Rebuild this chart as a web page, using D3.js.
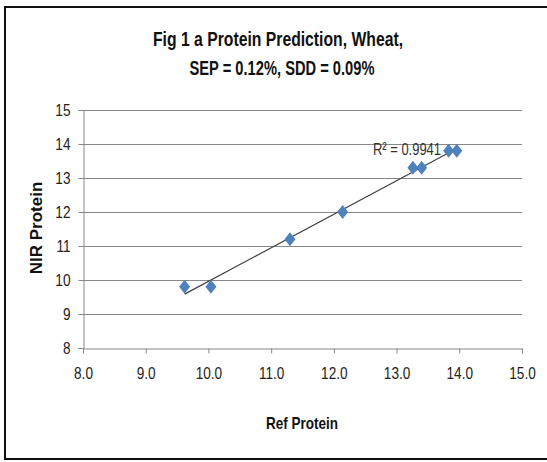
<!DOCTYPE html>
<html>
<head>
<meta charset="utf-8">
<script src="https://cdn.jsdelivr.net/npm/d3@7"></script>
<style>
  body { margin: 0; background: #fff; }
  text { font-family: "Liberation Sans", Arial, sans-serif; }
</style>
</head>
<body>
<div id="myDiv"><svg width="547" height="462"></svg></div>
<script>
// values
const refProtein = [9.62, 10.04, 11.30, 12.14, 13.26, 13.40, 13.83, 13.96];
const nirProtein = [9.8, 9.8, 11.2, 12.0, 13.3, 13.3, 13.8, 13.8];
const xTicks = [8, 9, 10, 11, 12, 13, 14, 15];
const yTicks = [8, 9, 10, 11, 12, 13, 14, 15];
const titleLines = ["Fig 1 a Protein Prediction, Wheat,", "SEP = 0.12%, SDD = 0.09%"];
const xTitle = "Ref Protein";
const yTitle = "NIR Protein";

const svg = d3.select("#myDiv").select("svg");

// narrow the glyphs a bit, the original face is a condensed one
function squeeze(sel, k) {
    sel.each(function() {
        let w = this.getComputedTextLength();
        d3.select(this)
            .attr("textLength", w * k)
            .attr("lengthAdjust", "spacingAndGlyphs");
    });
}

// outer frame (right side runs off the picture)
svg.append("path")
    .attr("d", "M560,7 H5 V459 H560")
    .attr("fill", "none")
    .attr("stroke", "#111")
    .attr("stroke-width", 2);

const x = d3.scaleLinear().domain([8, 15]).range([83, 522]);
const y = d3.scaleLinear().domain([8, 15]).range([348, 110]);

// gridlines
svg.append("g")
    .selectAll("line")
    .data(yTicks.filter(d => d > 8))
    .enter()
    .append("line")
    .attr("x1", x(8))
    .attr("x2", x(15))
    .attr("y1", d => Math.round(y(d)) + 0.5)
    .attr("y2", d => Math.round(y(d)) + 0.5)
    .attr("stroke", "#888");

// axes
const xAxis = svg.append("g")
    .attr("transform", "translate(0," + (Math.round(y(8)) + 0.5) + ")")
    .call(d3.axisBottom(x).tickValues(xTicks).tickFormat(d3.format(".1f")).tickSize(5).tickPadding(14));
const yAxis = svg.append("g")
    .attr("transform", "translate(" + (Math.round(x(8)) + 0.5) + ",0)")
    .call(d3.axisLeft(y).tickValues(yTicks).tickFormat(d3.format("d")).tickSize(5).tickPadding(8));

[xAxis, yAxis].forEach(function(a) {
    a.select(".domain").attr("stroke", "#888");
    a.selectAll(".tick line").attr("stroke", "#888");
    a.selectAll(".tick text")
        .attr("fill", "#222")
        .style("font-family", "'Liberation Sans', Arial, sans-serif")
        .style("font-size", "16px")
        .call(squeeze, 0.85);
});

// linear trendline
const pts = refProtein.map((d, i) => [d, nirProtein[i]]);
const mx = d3.mean(refProtein), my = d3.mean(nirProtein);
const slope = d3.sum(pts, p => (p[0] - mx) * (p[1] - my)) / d3.sum(pts, p => (p[0] - mx) ** 2);
const icpt = my - slope * mx;
const xExt = d3.extent(refProtein);

svg.append("line")
    .attr("x1", x(xExt[0]))
    .attr("y1", y(icpt + slope * xExt[0]))
    .attr("x2", x(xExt[1]))
    .attr("y2", y(icpt + slope * xExt[1]))
    .attr("stroke", "#404040")
    .attr("stroke-width", 1.2);

// diamond markers
svg.append("g")
    .selectAll("path")
    .data(pts)
    .enter()
    .append("path")
    .attr("transform", d => "translate(" + x(d[0]) + "," + y(d[1]) + ")")
    .attr("d", "M0,-7 L5.5,0 L0,7 L-5.5,0 Z")
    .attr("fill", "#4f81bd");

// R squared label
svg.append("text")
    .attr("x", 441)
    .attr("y", 155)
    .attr("text-anchor", "end")
    .attr("fill", "#333")
    .style("font-size", "17px")
    .text("R² = 0.9941")
    .attr("textLength", 68)
    .attr("lengthAdjust", "spacingAndGlyphs");

// titles
const titleWidths = [250, 185];
svg.append("g")
    .selectAll("text")
    .data(titleLines)
    .enter()
    .append("text")
    .attr("x", (d, i) => i === 0 ? 278 : 282)
    .attr("y", (d, i) => 46 + i * 29)
    .attr("text-anchor", "middle")
    .attr("fill", "#111")
    .style("font-size", "21px")
    .style("font-weight", "bold")
    .text(d => d)
    .attr("textLength", (d, i) => titleWidths[i])
    .attr("lengthAdjust", "spacingAndGlyphs");

svg.append("text")
    .attr("x", 302)
    .attr("y", 429)
    .attr("text-anchor", "middle")
    .attr("fill", "#111")
    .style("font-size", "17px")
    .style("font-weight", "bold")
    .text(xTitle)
    .attr("textLength", 72)
    .attr("lengthAdjust", "spacingAndGlyphs");

svg.append("text")
    .attr("transform", "translate(42,228) rotate(-90)")
    .attr("text-anchor", "middle")
    .attr("fill", "#111")
    .style("font-size", "17px")
    .style("font-weight", "bold")
    .text(yTitle);
</script>
</body>
</html>
